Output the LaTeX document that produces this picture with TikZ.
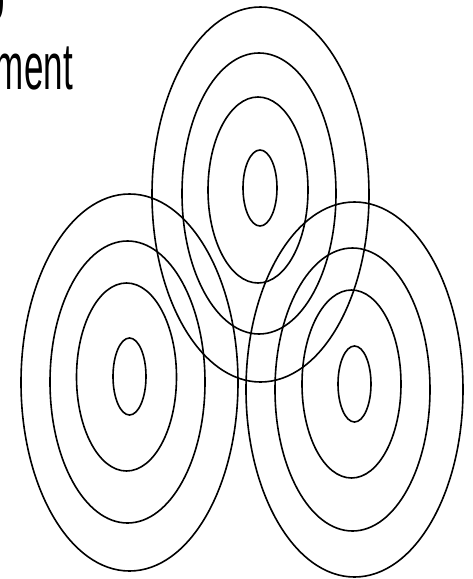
\documentclass[tikz,border=0pt]{standalone}
\usepackage{fontspec}
\setmainfont{Liberation Sans}
\begin{document}
\begin{tikzpicture}[x=1pt,y=-1pt,
  ring/.style={draw=black,line width=1.6pt},
  lbl/.style={inner sep=0pt,anchor=base east}]
\useasboundingbox (0,0) rectangle (472,579);
% title text (partly outside the frame)
\node[lbl] (t1) at (5.5,19.5) {\scalebox{0.53}[1]{\fontsize{66}{74}\selectfont Group}};
\node[lbl] (t2) at (73,89) {\scalebox{0.53}[1]{\fontsize{66}{74}\selectfont Development}};
% top group
\draw[ring] (260,188) ellipse [x radius=17pt, y radius=38pt];
\draw[ring] (258,190) ellipse [x radius=50pt, y radius=93pt];
\draw[ring] (259,193.5) ellipse [x radius=77pt, y radius=140.5pt];
\draw[ring] (260.5,194.5) ellipse [x radius=108.5pt, y radius=187.5pt];
% left group
\draw[ring] (129.5,376.5) ellipse [x radius=16.5pt, y radius=38.5pt];
\draw[ring] (126.5,377) ellipse [x radius=50pt, y radius=94pt];
\draw[ring] (127.5,382) ellipse [x radius=77.5pt, y radius=141pt];
\draw[ring] (129.5,382.5) ellipse [x radius=108.5pt, y radius=188.5pt];
% right group
\draw[ring] (354.5,384) ellipse [x radius=16.5pt, y radius=38pt];
\draw[ring] (351.5,384) ellipse [x radius=49.5pt, y radius=94pt];
\draw[ring] (352.5,389.5) ellipse [x radius=77.5pt, y radius=141.5pt];
\draw[ring] (354.5,389.5) ellipse [x radius=108.5pt, y radius=187.5pt];
\end{tikzpicture}
\end{document}
